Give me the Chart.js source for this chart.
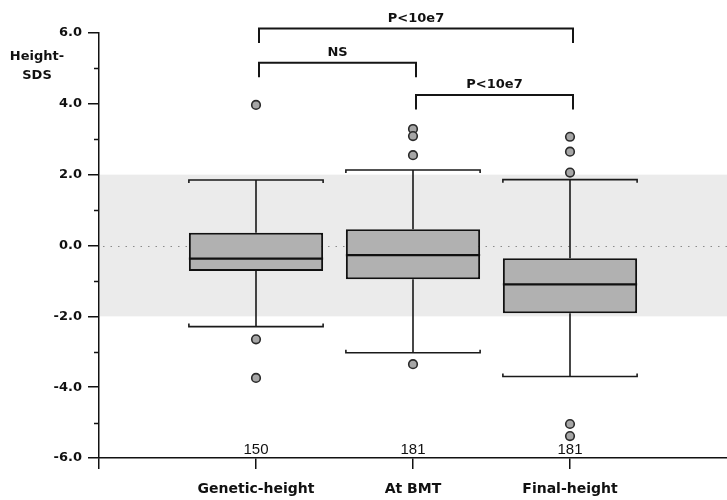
<!DOCTYPE html>
<html>
<head>
<meta charset="utf-8">
<script src="https://cdn.jsdelivr.net/npm/chart.js@4/dist/chart.umd.min.js"></script>
<style>
  html, body { margin: 0; padding: 0; background: #ffffff; }
  #wrap { width: 727px; height: 500px; position: relative; }
</style>
</head>
<body>
<div id="wrap"><canvas id="c" width="727" height="500"></canvas></div>
<script>
// ---- data ----
const categories = ['Genetic-height', 'At BMT', 'Final-height'];
const counts = [150, 181, 181];
const whiskerLow = [-2.29, -3.03, -3.70];
const q1 = [-0.72, -0.95, -1.91];
const median = [-0.37, -0.27, -1.10];
const q3 = [0.36, 0.46, -0.36];
const whiskerHigh = [1.85, 2.13, 1.86];
const outliers = [
  [3.97, -2.65, -3.74],
  [3.29, 3.09, 2.55, -3.35],
  [3.07, 2.65, 2.06, -5.04, -5.38]
];
const referenceBand = [-2, 2];
const yRange = [-6, 6];
const comparisonFrom = [0, 0, 1];
const comparisonTo = [2, 1, 2];
const comparisonLabels = ['P<10e7', 'NS', 'P<10e7'];
const axisTitleLines = ['Height-', 'SDS'];

// ---- build datasets from the arrays ----
const boxData = categories.map((c, i) => ({ x: i + 1, y: [q1[i], q3[i]] }));
const outlierData = [];
outliers.forEach((arr, i) => arr.forEach(v => outlierData.push({ x: i + 1, y: v })));

const BOX_HALF = 0.4275; // half box width in category units

const boxPlugin = {
  id: 'boxExtras',
  beforeDatasetsDraw(chart) {
    const { ctx, chartArea: a, scales: { x, y } } = chart;
    ctx.save();
    const yTop = y.getPixelForValue(referenceBand[1]);
    const yBot = y.getPixelForValue(referenceBand[0]);
    ctx.fillStyle = '#ebebeb';
    ctx.fillRect(a.left + 1, yTop, a.right - a.left - 1, yBot - yTop);
    ctx.strokeStyle = '#8a8a8a';
    ctx.lineWidth = 1;
    ctx.setLineDash([1.5, 6]);
    ctx.beginPath();
    const y0 = Math.round(y.getPixelForValue(0)) + 0.5;
    ctx.moveTo(a.left + 4, y0);
    ctx.lineTo(a.right, y0);
    ctx.stroke();
    ctx.setLineDash([]);
    ctx.strokeStyle = '#1a1a1a';
    ctx.lineWidth = 1.6;
    categories.forEach((c, i) => {
      const cx = x.getPixelForValue(i + 1);
      const l = x.getPixelForValue(i + 1 - BOX_HALF);
      const r = x.getPixelForValue(i + 1 + BOX_HALF);
      const hi = y.getPixelForValue(whiskerHigh[i]);
      const lo = y.getPixelForValue(whiskerLow[i]);
      ctx.beginPath();
      ctx.moveTo(cx, y.getPixelForValue(q3[i]));
      ctx.lineTo(cx, hi);
      ctx.moveTo(cx, y.getPixelForValue(q1[i]));
      ctx.lineTo(cx, lo);
      ctx.moveTo(l, hi + 3);
      ctx.lineTo(l, hi);
      ctx.lineTo(r, hi);
      ctx.lineTo(r, hi + 3);
      ctx.moveTo(l, lo - 3);
      ctx.lineTo(l, lo);
      ctx.lineTo(r, lo);
      ctx.lineTo(r, lo - 3);
      ctx.stroke();
    });
    ctx.restore();
  },
  afterDatasetsDraw(chart) {
    const { ctx, scales: { x, y } } = chart;
    ctx.save();
    ctx.strokeStyle = '#111';
    ctx.lineWidth = 2.2;
    categories.forEach((c, i) => {
      const l = x.getPixelForValue(i + 1 - BOX_HALF);
      const r = x.getPixelForValue(i + 1 + BOX_HALF);
      const m = y.getPixelForValue(median[i]);
      ctx.beginPath();
      ctx.moveTo(l, m);
      ctx.lineTo(r, m);
      ctx.stroke();
    });
    ctx.fillStyle = '#111';
    ctx.font = '15px "Liberation Sans", Arial, sans-serif';
    ctx.textAlign = 'center';
    ctx.textBaseline = 'alphabetic';
    counts.forEach((n, i) => {
      ctx.fillText(String(n), x.getPixelForValue(i + 1), y.getPixelForValue(yRange[0]) - 4.5);
    });
    ctx.restore();
  },
  afterDraw(chart) {
    const { ctx, chartArea: a, scales: { x, y } } = chart;
    ctx.save();
    ctx.strokeStyle = '#111';
    ctx.lineWidth = 1.5;
    ctx.beginPath();
    for (let v = yRange[0] + 1; v < yRange[1]; v += 2) {
      const py = Math.round(y.getPixelForValue(v)) + 0.5;
      ctx.moveTo(a.left - 5, py);
      ctx.lineTo(a.left, py);
    }
    ctx.stroke();
    ctx.fillStyle = '#111';
    ctx.font = 'bold 13px "DejaVu Sans", sans-serif';
    ctx.textAlign = 'center';
    ctx.textBaseline = 'middle';
    ctx.fillText(axisTitleLines[0], 37, 57);
    ctx.fillText(axisTitleLines[1], 37, 76);
    const levels = [6.13, 5.16, 4.25];
    const drop = 0.41;
    ctx.lineWidth = 2;
    ctx.strokeStyle = '#151515';
    comparisonLabels.forEach((lab, k) => {
      const x1 = x.getPixelForValue(comparisonFrom[k] + 1) + 3;
      const x2 = x.getPixelForValue(comparisonTo[k] + 1) + 3;
      const yb = y.getPixelForValue(levels[k]);
      const ye = y.getPixelForValue(levels[k] - drop);
      ctx.beginPath();
      ctx.moveTo(x1, ye);
      ctx.lineTo(x1, yb);
      ctx.lineTo(x2, yb);
      ctx.lineTo(x2, ye);
      ctx.stroke();
      ctx.fillText(lab, (x1 + x2) / 2, yb - 10);
    });
    ctx.restore();
  }
};

const chart = new Chart(document.getElementById('c'), {
  type: 'bar',
  data: {
    datasets: [
      {
        type: 'bar',
        data: boxData,
        backgroundColor: '#b1b1b1',
        borderColor: '#111',
        borderWidth: 2,
        borderSkipped: false,
        categoryPercentage: 1,
        barPercentage: 0.855,
        order: 2
      },
      {
        type: 'scatter',
        data: outlierData,
        pointRadius: 4.3,
        pointBackgroundColor: '#a6a6a6',
        pointBorderColor: '#2a2a2a',
        pointBorderWidth: 1.6,
        showLine: false,
        order: 1
      }
    ]
  },
  options: {
    responsive: false,
    animation: false,
    layout: { autoPadding: false, padding: { top: 33, right: 0, bottom: 0, left: 0 } },
    plugins: { legend: { display: false }, tooltip: { enabled: false } },
    scales: {
      x: {
        type: 'linear',
        min: 0,
        max: 4,
        offset: false,
        afterFit: s => { s.height = 42; s.paddingLeft = 0; s.paddingRight = 0; },
        grid: {
          offset: false,
          drawOnChartArea: false,
          drawTicks: true,
          tickLength: 11,
          lineWidth: 1.5,
          tickColor: c => (c.tick && c.tick.value < 4) ? '#111' : 'rgba(0,0,0,0)'
        },
        border: { display: true, color: '#111', width: 1.5 },
        ticks: {
          stepSize: 1,
          autoSkip: false,
          maxRotation: 0,
          padding: 12,
          color: '#111',
          font: { family: 'DejaVu Sans', weight: 'bold', size: 14 },
          callback: v => categories[v - 1] || ''
        }
      },
      y: {
        type: 'linear',
        min: yRange[0],
        max: yRange[1],
        afterFit: s => { s.width = 99; s.paddingTop = 0; s.paddingBottom = 0; },
        grid: {
          drawOnChartArea: false,
          drawTicks: true,
          tickLength: 11,
          lineWidth: 1.5,
          tickColor: c => (c.tick && c.tick.value % 2 === 0) ? '#111' : 'rgba(0,0,0,0)'
        },
        border: { display: true, color: '#111', width: 1.5 },
        ticks: {
          stepSize: 1,
          autoSkip: false,
          padding: 6,
          color: '#111',
          font: { family: 'DejaVu Sans', weight: 'bold', size: 13 },
          callback: v => (v % 2 === 0) ? v.toFixed(1) : ''
        }
      }
    }
  },
  plugins: [boxPlugin]
});
</script>
</body>
</html>
